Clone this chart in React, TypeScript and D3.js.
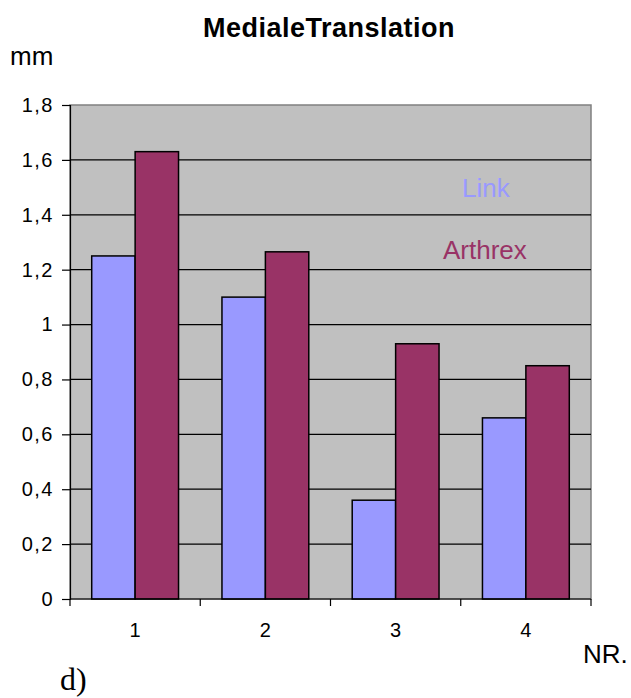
import React, { useEffect, useRef } from 'react';
import * as d3 from 'd3';

const categories = ['1', '2', '3', '4'];
const seriesNames = ['Link', 'Arthrex'];
const linkValues = [1.25, 1.1, 0.36, 0.66];
const arthrexValues = [1.63, 1.265, 0.93, 0.85];
const yTicks = [0, 0.2, 0.4, 0.6, 0.8, 1, 1.2, 1.4, 1.6, 1.8];
const colors = ['#9999FF', '#993366'];

const App = () => {
  const ref = useRef<SVGSVGElement>(null);

  useEffect(() => {
    const svg = d3.select(ref.current);
    svg.selectAll('*').remove();

    const left = 70, right = 591, top = 105, bottom = 599;
    const font = '"Liberation Sans", Arial, sans-serif';

    const x = d3.scaleBand().domain(categories).range([left, right]).paddingInner(0).paddingOuter(0);
    const xs = d3.scaleBand().domain(seriesNames).range([0, x.bandwidth() * 2 / 3]);
    const y = d3.scaleLinear().domain([0, 1.8]).range([bottom, top]);

    // plot area
    svg.append('rect')
      .attr('x', left).attr('y', top)
      .attr('width', right - left).attr('height', bottom - top)
      .attr('fill', '#C0C0C0')
      .attr('stroke', '#808080').attr('stroke-width', 1.5);

    // grid
    svg.append('g').selectAll('line')
      .data(yTicks.filter(t => t > 0 && t < 1.8))
      .enter().append('line')
      .attr('x1', left).attr('x2', right)
      .attr('y1', d => y(d)).attr('y2', d => y(d))
      .attr('stroke', '#000').attr('stroke-width', 1.2);

    // bars
    const series = [linkValues, arthrexValues];
    series.forEach((vals, si) => {
      svg.append('g').selectAll('rect')
        .data(vals)
        .enter().append('rect')
        .attr('x', (d, i) => x(categories[i])! + x.bandwidth() / 6 + xs(seriesNames[si])!)
        .attr('y', d => y(d))
        .attr('width', xs.bandwidth())
        .attr('height', d => bottom - y(d))
        .attr('fill', colors[si])
        .attr('stroke', '#000').attr('stroke-width', 1.5);
    });

    // y axis
    const yAxis = svg.append('g')
      .attr('transform', `translate(${left},0)`)
      .call(d3.axisLeft(y).tickValues(yTicks).tickSize(8).tickPadding(8)
        .tickFormat(d => String(+(+d).toFixed(1)).replace('.', ',')));
    yAxis.select('.domain').attr('stroke', '#000').attr('stroke-width', 1.2);
    yAxis.selectAll('.tick line').attr('stroke', '#000').attr('stroke-width', 1.2);
    yAxis.selectAll('.tick text')
      .attr('fill', '#000')
      .style('font-family', font).style('font-size', '20px').style('letter-spacing', '1.5px');

    // x axis
    const xAxis = svg.append('g').attr('transform', `translate(0,${bottom})`);
    xAxis.append('line').attr('x1', left).attr('x2', right)
      .attr('stroke', '#000').attr('stroke-width', 1.2);
    xAxis.selectAll('.sep')
      .data(d3.range(categories.length + 1))
      .enter().append('line')
      .attr('x1', i => left + i * x.bandwidth()).attr('x2', i => left + i * x.bandwidth())
      .attr('y1', 0).attr('y2', 7)
      .attr('stroke', '#000').attr('stroke-width', 1.2);
    xAxis.selectAll('.lab')
      .data(categories)
      .enter().append('text')
      .attr('x', d => x(d)! + x.bandwidth() / 2)
      .attr('y', 37.5)
      .attr('text-anchor', 'middle')
      .style('font-family', font).style('font-size', '20px')
      .text(d => d);

    // texts
    svg.append('text')
      .attr('x', 329).attr('y', 37)
      .attr('text-anchor', 'middle')
      .style('font-family', font).style('font-size', '27px').style('font-weight', 'bold')
      .style('letter-spacing', '0.5px')
      .text('MedialeTranslation');
    svg.append('text')
      .attr('x', 10).attr('y', 65)
      .style('font-family', font).style('font-size', '26px')
      .text('mm');
    svg.append('text')
      .attr('x', 583).attr('y', 663)
      .style('font-family', font).style('font-size', '26px')
      .text('NR.');
    svg.append('text')
      .attr('x', 60).attr('y', 690)
      .style('font-family', '"Liberation Serif", "Times New Roman", serif').style('font-size', '32px')
      .text('d)');

    // legend labels
    const legendPos = [[462, 196.5], [443, 259]];
    seriesNames.forEach((name, i) => {
      svg.append('text')
        .attr('x', legendPos[i][0]).attr('y', legendPos[i][1])
        .attr('fill', colors[i])
        .style('font-family', font).style('font-size', '26px')
        .text(name);
    });
  }, []);

  return (
    <svg ref={ref} width={631} height={698}
      style={{ position: 'absolute', left: 0, top: 0, background: '#fff' }} />
  );
};

export default App;
